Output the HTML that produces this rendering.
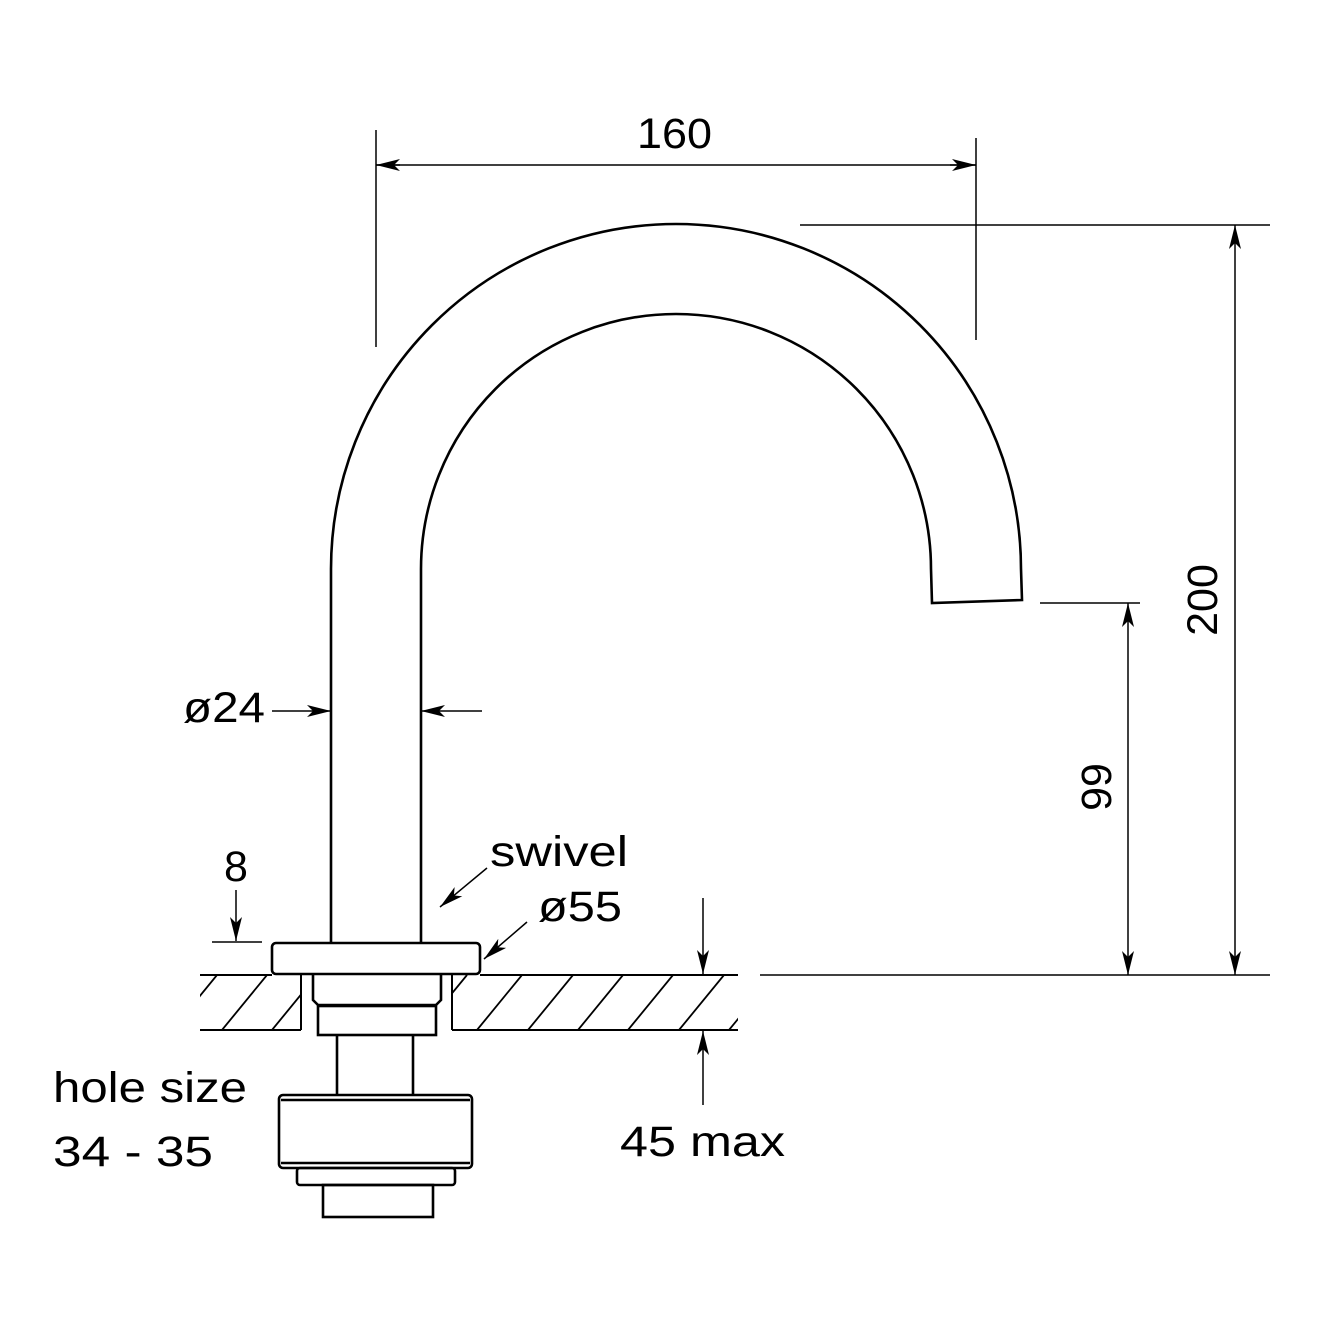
<!DOCTYPE html>
<html><head><meta charset="utf-8"><style>html,body{margin:0;padding:0;background:#fff}svg{display:block}</style></head>
<body>
<svg width="1320" height="1320" viewBox="0 0 1320 1320" xmlns="http://www.w3.org/2000/svg" font-family="Liberation Sans, sans-serif">
<defs>
<marker id="a" viewBox="0 0 24 12" refX="24" refY="6" markerWidth="24" markerHeight="12" markerUnits="userSpaceOnUse" orient="auto">
<path d="M0,0 L24,6 L0,12 L6,6 Z" fill="#000"/></marker>
<clipPath id="hl"><rect x="200" y="975" width="101" height="55"/></clipPath>
<clipPath id="hr"><rect x="452" y="975" width="286" height="55"/></clipPath>
</defs>
<g fill="none" stroke="#000">
<path d="M331,943 L331,569 A345,345 0 0 1 1021,569 L1022,600 L932,603 L931,569 A255,255 0 0 0 421,569 L421,943" stroke-width="2.6"/>
<rect x="272" y="943" width="208" height="31" rx="4" stroke-width="2.6"/>
<g stroke-width="2">
<line x1="200" y1="975" x2="272" y2="975"/><line x1="480" y1="975" x2="738" y2="975"/>
<line x1="200" y1="1030" x2="301" y2="1030"/><line x1="452" y1="1030" x2="738" y2="1030"/>
<line x1="301" y1="975" x2="301" y2="1030"/><line x1="452" y1="975" x2="452" y2="1030"/>
</g>
<g stroke-width="1.8" clip-path="url(#hl)">
<line x1="172" y1="1030" x2="217" y2="975"/><line x1="222" y1="1030" x2="267" y2="975"/><line x1="272" y1="1030" x2="317" y2="975"/>
</g>
<g stroke-width="1.8" clip-path="url(#hr)">
<line x1="422" y1="1030" x2="467" y2="975"/><line x1="477" y1="1030" x2="522" y2="975"/><line x1="528" y1="1030" x2="573" y2="975"/><line x1="578" y1="1030" x2="623" y2="975"/><line x1="628" y1="1030" x2="673" y2="975"/><line x1="679" y1="1030" x2="724" y2="975"/><line x1="729" y1="1030" x2="774" y2="975"/>
</g>
<g stroke-width="2.6">
<path d="M313,975 L313,1000 L318,1005 L436,1005 L441,1000 L441,975"/>
<rect x="318" y="1006" width="118" height="29"/>
<line x1="337" y1="1035" x2="337" y2="1095"/><line x1="413" y1="1035" x2="413" y2="1095"/>
<rect x="279" y="1095" width="193" height="73" rx="4"/>
<line x1="281" y1="1100" x2="470" y2="1100"/>
<line x1="281" y1="1163" x2="470" y2="1163"/>
<rect x="297" y="1168" width="158" height="17" rx="3"/>
<rect x="323" y="1185" width="110" height="32"/>
</g>
<g stroke-width="1.5">
<line x1="376" y1="130" x2="376" y2="347"/><line x1="976" y1="138" x2="976" y2="340"/>
<line x1="400" y1="165" x2="376" y2="165" marker-end="url(#a)"/><line x1="950" y1="165" x2="976" y2="165" marker-end="url(#a)"/>
<line x1="376" y1="165" x2="976" y2="165"/>
<line x1="800" y1="225" x2="1270" y2="225"/><line x1="760" y1="975" x2="1270" y2="975"/>
<line x1="1235" y1="600" x2="1235" y2="225" marker-end="url(#a)"/><line x1="1235" y1="600" x2="1235" y2="975" marker-end="url(#a)"/>
<line x1="1040" y1="603" x2="1140" y2="603"/>
<line x1="1128" y1="790" x2="1128" y2="603" marker-end="url(#a)"/><line x1="1128" y1="790" x2="1128" y2="975" marker-end="url(#a)"/>
<line x1="272" y1="711" x2="331" y2="711" marker-end="url(#a)"/><line x1="482" y1="711" x2="421" y2="711" marker-end="url(#a)"/>
<line x1="236" y1="890" x2="236" y2="941" marker-end="url(#a)"/><line x1="212" y1="942" x2="262" y2="942"/>
<line x1="487" y1="868" x2="440" y2="907" marker-end="url(#a)"/>
<line x1="527" y1="922" x2="484" y2="959" marker-end="url(#a)"/>
<line x1="703" y1="898" x2="703" y2="974" marker-end="url(#a)"/>
<line x1="703" y1="1105" x2="703" y2="1031" marker-end="url(#a)"/>
</g>
</g>
<g font-size="43" fill="#000" lengthAdjust="spacingAndGlyphs">
<text x="637" y="148" textLength="75" lengthAdjust="spacingAndGlyphs">160</text>
<text transform="translate(1217,600) rotate(-90)" text-anchor="middle">200</text>
<text transform="translate(1111,787) rotate(-90)" text-anchor="middle">99</text>
<text x="183" y="722" textLength="82" lengthAdjust="spacingAndGlyphs">ø24</text>
<text x="236" y="881" text-anchor="middle">8</text>
<text x="490" y="866" textLength="138" lengthAdjust="spacingAndGlyphs">swivel</text>
<text x="538" y="921" textLength="84" lengthAdjust="spacingAndGlyphs">ø55</text>
<text x="620" y="1156" textLength="165" lengthAdjust="spacingAndGlyphs">45 max</text>
<text x="53" y="1102" textLength="194" lengthAdjust="spacingAndGlyphs">hole size</text>
<text x="53" y="1166" textLength="160" lengthAdjust="spacingAndGlyphs">34 - 35</text>
</g>
</svg>
</body></html>
